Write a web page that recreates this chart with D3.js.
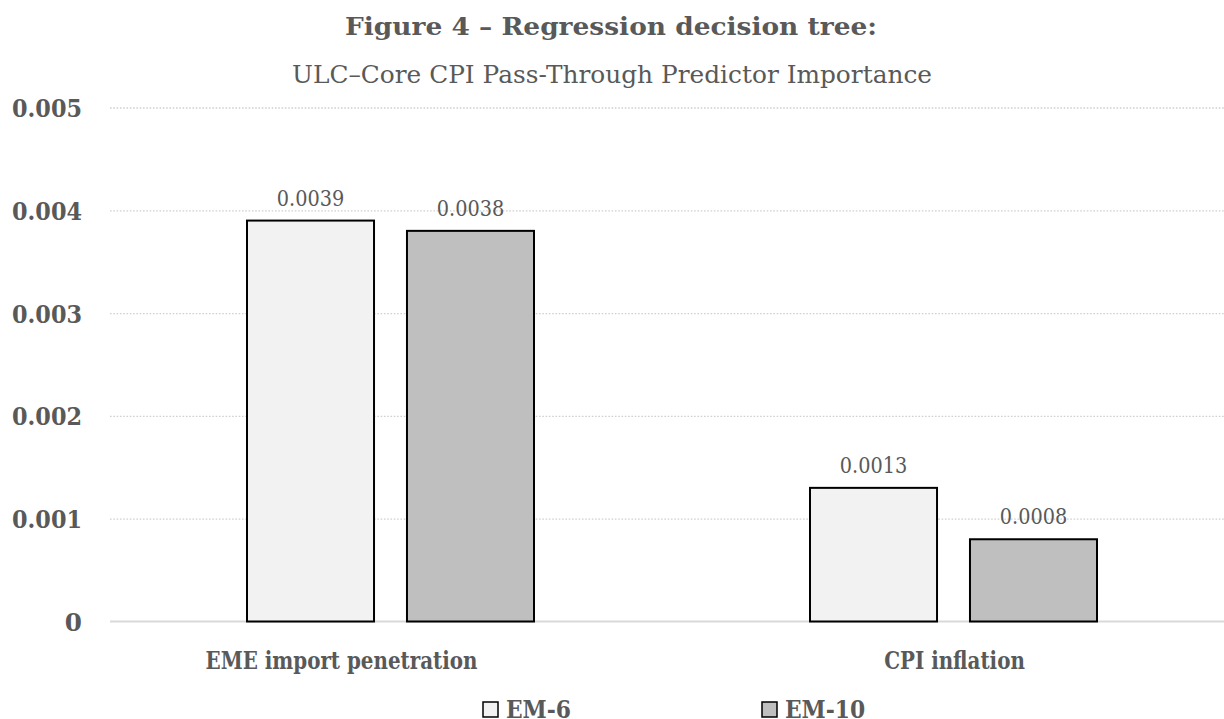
<!DOCTYPE html>
<html>
<head>
<meta charset="utf-8">
<script src="https://cdn.jsdelivr.net/npm/d3@7"></script>
<style>
  html, body { margin: 0; padding: 0; background: #fff; }
  svg { display: block; }
  text { font-family: "DejaVu Serif", "Liberation Serif", serif; fill: #595959; }
</style>
</head>
<body>
<svg id="chart" width="1224" height="719"></svg>
<script>
const categories = ["EME import penetration", "CPI inflation"];
const seriesNames = ["EM-6", "EM-10"];
const em6Values = [0.0039, 0.0013];
const em10Values = [0.0038, 0.0008];
const yTickValues = [0, 0.001, 0.002, 0.003, 0.004, 0.005];
const titleText = "Figure 4 \u2013 Regression decision tree:";
const subtitleText = "ULC\u2013Core CPI Pass-Through Predictor Importance";

(function () {
const seriesColors = { "EM-6": "#f2f2f2", "EM-10": "#bfbfbf" };
const data = categories.map((c, i) => ({ category: c, values: [
  { series: "EM-6", value: em6Values[i] },
  { series: "EM-10", value: em10Values[i] }
]}));

const svg = d3.select("#chart");
const W = 1224, plotLeft = 110, plotRight = 1236, plotTop = 107.5, plotBottom = 621.5;

// adjust glyph widths so the substitute font covers the same width as the original face:
// the first node of the selection is fitted to the target width, the others by the same ratio
function fitWidth(sel, target) {
  const node = sel.node();
  const ratio = target / node.getComputedTextLength();
  sel.each(function () {
    const w = this.getComputedTextLength();
    d3.select(this).attr("textLength", w * ratio).attr("lengthAdjust", "spacingAndGlyphs");
  });
}

const y = d3.scaleLinear().domain([0, 0.005]).range([plotBottom, plotTop]);
const x0 = d3.scaleBand().domain(categories).range([plotLeft, plotRight]);
const x1 = d3.scaleBand().domain(seriesNames).range([137, 424]).paddingInner(0.206);

// gridlines
const grid = svg.append("g").attr("transform", `translate(${plotLeft},0)`)
  .call(d3.axisLeft(y).tickValues(yTickValues.filter(d => d > 0)).tickSize(-(W - plotLeft)).tickFormat(""));
grid.select(".domain").remove();
grid.selectAll("line").attr("stroke", "#d0d0d0").attr("stroke-width", 1.3).attr("stroke-dasharray", "1.6,1.7");

// baseline
svg.append("line").attr("x1", plotLeft).attr("x2", W).attr("y1", y(0)).attr("y2", y(0))
  .attr("stroke", "#d9d9d9").attr("stroke-width", 2);

// y axis labels
const yAxis = svg.append("g").attr("transform", `translate(${plotLeft},0)`)
  .call(d3.axisLeft(y).tickValues(yTickValues).tickSize(0).tickPadding(28)
    .tickFormat(d => d === 0 ? "0" : d3.format(".3f")(d)));
yAxis.select(".domain").remove();
yAxis.selectAll("text").attr("font-family", "DejaVu Serif").attr("font-weight", "bold")
  .attr("font-size", 24.7).attr("fill", "#595959").attr("dy", "0.36em");
fitWidth(yAxis.selectAll("text").filter(d => d > 0), 70);

// bars
const groups = svg.append("g").selectAll("g").data(data).join("g")
  .attr("transform", d => `translate(${x0(d.category)},0)`);
groups.selectAll("rect").data(d => d.values).join("rect")
  .attr("x", d => x1(d.series))
  .attr("y", d => y(d.value))
  .attr("width", x1.bandwidth())
  .attr("height", d => y(0) - y(d.value))
  .attr("fill", d => seriesColors[d.series])
  .attr("stroke", "#000").attr("stroke-width", 2);
groups.selectAll("text.lbl").data(d => d.values).join("text").attr("class", "lbl")
  .attr("x", d => x1(d.series) + x1.bandwidth() / 2)
  .attr("y", d => y(d.value) - 15)
  .attr("text-anchor", "middle")
  .attr("font-size", 21.5)
  .text(d => d3.format(".4f")(d.value));
fitWidth(svg.selectAll("text.lbl"), 67.5);

// x axis labels
const xAxis = svg.append("g").attr("transform", `translate(0,${plotBottom})`)
  .call(d3.axisBottom(x0).tickSize(0).tickPadding(0));
xAxis.select(".domain").remove();
xAxis.selectAll("text").attr("font-family", "DejaVu Serif").attr("font-weight", "bold")
  .attr("font-size", 23.5).attr("fill", "#595959")
  .attr("y", 47).attr("dy", 0)
  .attr("dx", (d, i) => i === 0 ? -50 : 0);
fitWidth(xAxis.selectAll("text"), 272);

// title
const t1 = svg.append("text").attr("x", 611).attr("y", 35).attr("text-anchor", "middle")
  .attr("font-weight", "bold").attr("font-size", 25).text(titleText);
fitWidth(t1, 532);
const t2 = svg.append("text").attr("x", 612).attr("y", 83).attr("text-anchor", "middle")
  .attr("font-size", 24.5).text(subtitleText);
fitWidth(t2, 640);

// legend
const legendX = [483, 762];
const leg = svg.append("g").selectAll("g").data(seriesNames).join("g")
  .attr("transform", (d, i) => `translate(${legendX[i]},702)`);
leg.append("rect").attr("width", 15).attr("height", 15)
  .attr("fill", d => seriesColors[d]).attr("stroke", "#000").attr("stroke-width", 1.5);
leg.append("text").attr("class", "legtxt").attr("x", 23).attr("y", 16).attr("font-weight", "bold")
  .attr("font-size", 24.5).text(d => d);
fitWidth(svg.selectAll("text.legtxt"), 65);
})();
</script>
</body>
</html>
